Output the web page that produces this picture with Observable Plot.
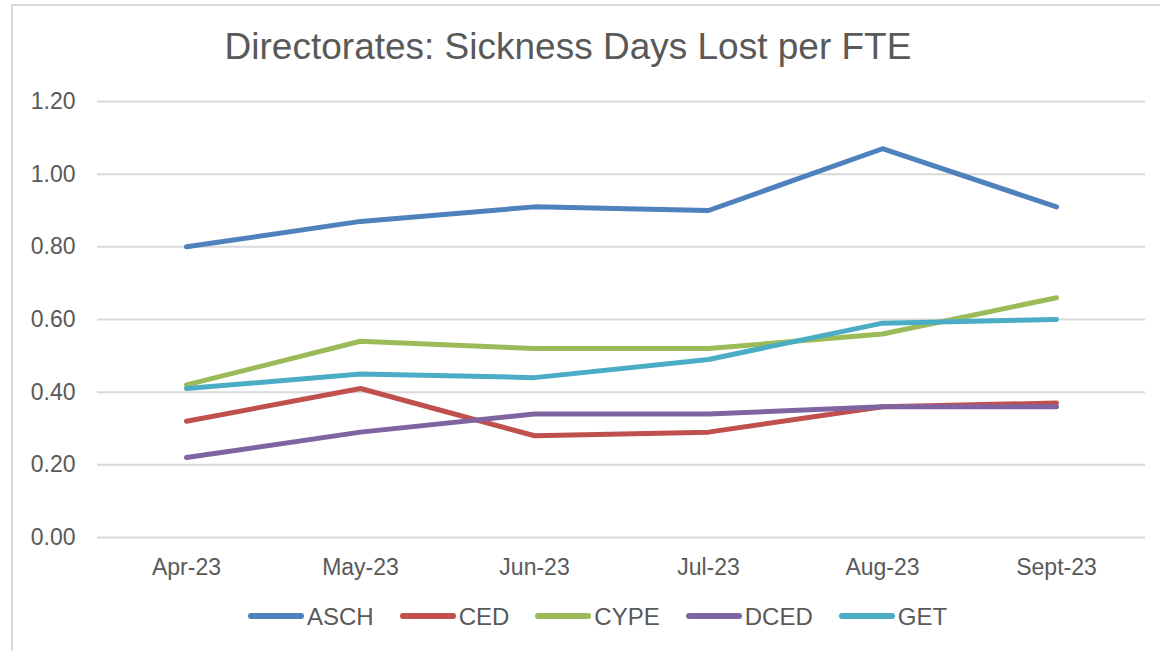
<!DOCTYPE html>
<html>
<head>
<meta charset="utf-8">
<script src="https://cdn.jsdelivr.net/npm/d3@7"></script>
<script src="https://cdn.jsdelivr.net/npm/@observablehq/plot@0.6"></script>
<style>
  html, body { margin: 0; padding: 0; background: #fff; overflow: hidden; }
  #wrap { position: relative; width: 1160px; height: 651px; overflow: hidden; font-family: "Liberation Sans", Arial, sans-serif; color: #595959; }
  #frame { position: absolute; left: 11px; top: 4px; width: 1200px; height: 700px; border: 2px solid #d9d9d9; box-sizing: border-box; }
  #title { position: absolute; left: 568px; top: 28px; transform: translateX(-50%); white-space: nowrap; font-size: 37px; line-height: 1; }
  #chart { position: absolute; left: 0; top: 0; }
  #legend { position: absolute; left: 248px; top: 605px; display: flex; align-items: center; font-size: 24px; line-height: 1; white-space: nowrap; }
  .item { display: flex; align-items: center; margin-right: 26px; }
  .sw { width: 56px; height: 6px; border-radius: 3px; margin-right: 3px; position: relative; top: -1px; }
</style>
</head>
<body>
<div id="wrap">
  <div id="frame"></div>
  <div id="chart"></div>
  <div id="title">Directorates: Sickness Days Lost per FTE</div>
  <div id="legend"></div>
</div>
<script>
const months = ["Apr-23", "May-23", "Jun-23", "Jul-23", "Aug-23", "Sept-23"];
const seriesNames = ["ASCH", "CED", "CYPE", "DCED", "GET"];
const seriesColors = ["#4f81bd", "#c0504d", "#9bbb59", "#8064a2", "#4bacc6"];
const ASCH = [0.80, 0.87, 0.91, 0.90, 1.07, 0.91];
const CED  = [0.32, 0.41, 0.28, 0.29, 0.36, 0.37];
const CYPE = [0.42, 0.54, 0.52, 0.52, 0.56, 0.66];
const DCED = [0.22, 0.29, 0.34, 0.34, 0.36, 0.36];
const GET  = [0.41, 0.45, 0.44, 0.49, 0.59, 0.60];
const yTicks = [0, 0.2, 0.4, 0.6, 0.8, 1.0, 1.2];

const seriesValues = [ASCH, CED, CYPE, DCED, GET];
const rows = [];
seriesNames.forEach((name, i) => {
  seriesValues[i].forEach((v, j) => rows.push({series: name, month: months[j], value: v}));
});

const chart = Plot.plot({
  width: 1160,
  height: 580,
  marginLeft: 97,
  marginRight: 15,
  marginTop: 101,
  marginBottom: 43,
  style: {fontFamily: "'Liberation Sans', Arial, sans-serif", color: "#595959", background: "transparent"},
  x: {type: "point", domain: months, padding: 0.5, label: null},
  y: {domain: [0, 1.2], label: null},
  color: {domain: seriesNames, range: seriesColors},
  marks: [
    Plot.ruleY(yTicks, {stroke: "#d9d9d9", strokeWidth: 2}),
    Plot.axisY(yTicks, {tickSize: 0, tickPadding: 22, fontSize: 23, tickFormat: d3.format(".2f"), label: null}),
    Plot.axisX({tickSize: 0, tickPadding: 21, fontSize: 23, label: null}),
    Plot.line(rows, {x: "month", y: "value", z: "series", stroke: "series", strokeWidth: 5, strokeLinecap: "round", strokeLinejoin: "round"})
  ]
});
document.getElementById("chart").appendChild(chart);

const legend = document.getElementById("legend");
seriesNames.forEach((name, i) => {
  const item = document.createElement("div");
  item.className = "item";
  const sw = document.createElement("div");
  sw.className = "sw";
  sw.style.background = seriesColors[i];
  const label = document.createElement("span");
  label.textContent = name;
  item.appendChild(sw);
  item.appendChild(label);
  legend.appendChild(item);
});
</script>
</body>
</html>
